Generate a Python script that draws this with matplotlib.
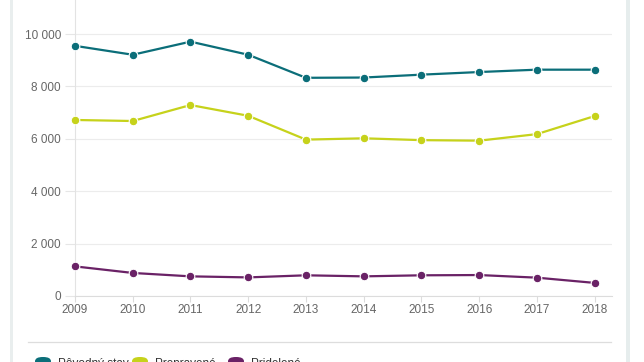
import matplotlib
matplotlib.use("Agg")
import matplotlib.pyplot as plt
from matplotlib.patches import FancyBboxPatch, Rectangle
from matplotlib.lines import Line2D

plt.rcParams["font.family"] = ["Liberation Sans", "DejaVu Sans"]

# ── Data ─────────────────────────────────────────────────────────────────────
years = [2009, 2010, 2011, 2012, 2013, 2014, 2015, 2016, 2017, 2018]
series_a = [9550, 9210, 9710, 9210, 8330, 8340, 8450, 8550, 8640, 8640]
series_b = [6720, 6680, 7290, 6880, 5970, 6020, 5950, 5930, 6180, 6870]
series_c = [1130, 880, 750, 710, 790, 750, 790, 800, 700, 500]
labels = ["Pôvodný stav", "Prepravené", "Pridelené"]
colors = ["#0b6e79", "#c6d21b", "#6a2266"]
yticks = [0, 2000, 4000, 6000, 8000, 10000]


def fmt(v):
    return f"{v:,}".replace(",", " ")


W, H = 644, 362
fig = plt.figure(figsize=(W / 100, H / 100), dpi=100)
fig.patch.set_facecolor("white")

# panel borders
fig.add_artist(Rectangle((10 / W, 0), 3 / W, 1, transform=fig.transFigure,
                         color="#e9eeee", lw=0))
fig.add_artist(Rectangle((626 / W, 0), 4 / W, 1, transform=fig.transFigure,
                         color="#e6eded", lw=0))

ax = fig.add_axes([75 / W, 66 / H, (612 - 75) / W, 1 - 66 / H])
for vals, c in zip([series_a, series_b, series_c], colors):
    ax.plot(years, vals, color=c, lw=1.6, marker="o", ms=6.2,
            markeredgecolor="white", markeredgewidth=0.8, zorder=3,
            clip_on=False)

ax.set_xlim(2009, 2018.3)
ax.set_ylim(0, 11300)
ax.set_yticks(yticks)
ax.set_yticklabels([fmt(v) for v in yticks])
ax.set_xticks(years)
ax.grid(axis="y", color="#ececec", lw=0.8)
ax.set_axisbelow(True)
for s in ["top", "right"]:
    ax.spines[s].set_visible(False)
ax.spines["left"].set_color("#e3e3e3")
ax.spines["bottom"].set_color("#dcdcdc")
ax.tick_params(axis="y", length=7, color="#e6e6e6", labelsize=8.5,
               labelcolor="#666666", pad=3)
ax.tick_params(axis="x", length=4, color="#dcdcdc", labelsize=8.5,
               labelcolor="#666666", pad=2)

# separator line above legend
fig.add_artist(Line2D([28 / W, 611 / W], [1 - 342 / H, 1 - 342 / H],
                      transform=fig.transFigure, color="#dddddd", lw=0.9))

# legend (cut off at bottom of image, as in the source)
key_x = [35, 132, 228]
for kx, lab, c in zip(key_x, labels, colors):
    fig.add_artist(FancyBboxPatch((kx / W, -8 / H), 16 / W, 13 / H,
                                  boxstyle="round,pad=0,rounding_size=0.012",
                                  transform=fig.transFigure, color=c, lw=0))
    fig.text((kx + 23) / W, 1 - 358 / H, lab, fontsize=8.5, color="#333333",
             va="top", ha="left")

fig.savefig("out.png", dpi=100)
